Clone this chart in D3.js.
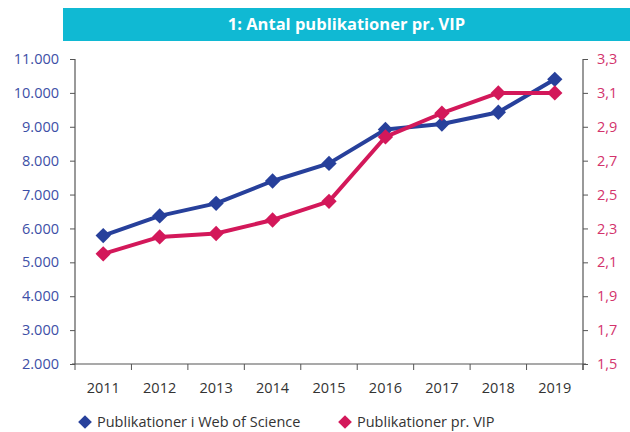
<!DOCTYPE html>
<html>
<head>
<meta charset="utf-8">
<script src="https://cdn.jsdelivr.net/npm/d3@7"></script>
<style>
  body { margin: 0; background: #fff; }
  svg text { font-family: "Open Sans", "Noto Sans", sans-serif; }
</style>
</head>
<body>
<div id="chart"></div>
<script>
'use strict';

// values
var years = ['2011', '2012', '2013', '2014', '2015', '2016', '2017', '2018', '2019'];
var wosPubs = [5790, 6370, 6740, 7400, 7920, 8920, 9080, 9430, 10400];
var pubsPerVip = [2.15, 2.25, 2.27, 2.35, 2.46, 2.84, 2.98, 3.10, 3.10];
var leftTicks = [2000, 3000, 4000, 5000, 6000, 7000, 8000, 9000, 10000, 11000];
var rightTicks = [1.5, 1.7, 1.9, 2.1, 2.3, 2.5, 2.7, 2.9, 3.1, 3.3];
var seriesNames = ['Publikationer i Web of Science', 'Publikationer pr. VIP'];
var chartTitle = '1: Antal publikationer pr. VIP';

var width = 630,
    height = 432,
    margin = {top: 59, right: 47, bottom: 68, left: 75},
    blue = '#27409b',
    red = '#d3185a',
    axisColor = '#555';

var svg = d3.select('#chart').append('svg')
            .attr('width', width)
            .attr('height', height);

// title bar
svg.append('rect')
   .attr('x', 63).attr('y', 8)
   .attr('width', width - 63).attr('height', 33)
   .attr('fill', '#10b9d3');

svg.append('text')
   .attr('x', 63 + (width - 63) / 2).attr('y', 30)
   .attr('text-anchor', 'middle')
   .attr('fill', '#fff')
   .attr('font-size', 16.5)
   .attr('font-weight', 'bold')
   .text(chartTitle);

var innerW = width - margin.left - margin.right,
    innerH = height - margin.top - margin.bottom;

var g = svg.append('g').attr('transform', 'translate(' + margin.left + ',' + margin.top + ')');

var x = d3.scalePoint().domain(years).range([0, innerW]).padding(0.5);
var band = d3.scaleBand().domain(years).range([0, innerW]);
var yLeft = d3.scaleLinear().domain([2000, 11000]).range([innerH, 0]);
var yRight = d3.scaleLinear().domain([1.5, 3.3]).range([innerH, 0]);

var fmtLeft = function (d) { return d3.format(',')(d).replace(/,/g, '.'); };
var fmtRight = function (d) { return d3.format('.1f')(d).replace('.', ','); };

// left axis
var gl = g.append('g')
          .call(d3.axisLeft(yLeft).tickValues(leftTicks).tickFormat(fmtLeft).tickSize(5).tickPadding(11));
gl.select('.domain').attr('stroke', axisColor).attr('stroke-width', 1.2).attr('d', 'M0,0V' + innerH);
gl.selectAll('.tick line').attr('stroke', axisColor);
gl.selectAll('.tick text').attr('fill', '#3d4fa6').attr('font-size', 14.5);

// right axis
var gr = g.append('g')
          .attr('transform', 'translate(' + innerW + ',0)')
          .call(d3.axisRight(yRight).tickValues(rightTicks).tickFormat(fmtRight).tickSize(5).tickPadding(9));
gr.select('.domain').attr('stroke', axisColor).attr('stroke-width', 1.2).attr('d', 'M0,0V' + (innerH + 6));
gr.selectAll('.tick line').attr('stroke', axisColor);
gr.selectAll('.tick text').attr('fill', '#d3336c').attr('font-size', 14.5);

// x axis: ticks between categories
var gx = g.append('g')
          .attr('transform', 'translate(0,' + innerH + ')');
gx.append('line')
  .attr('x1', -3).attr('x2', innerW + 3)
  .attr('stroke', axisColor).attr('stroke-width', 1.2);
gx.selectAll('.sep')
  .data(years.concat(['end']))
  .enter().append('line')
  .attr('class', 'sep')
  .attr('x1', function (d, i) { return i < years.length ? band(d) : innerW; })
  .attr('x2', function (d, i) { return i < years.length ? band(d) : innerW; })
  .attr('y1', 0).attr('y2', 6)
  .attr('stroke', axisColor);
gx.selectAll('.lbl')
  .data(years)
  .enter().append('text')
  .attr('class', 'lbl')
  .attr('x', function (d) { return x(d); })
  .attr('y', 29)
  .attr('text-anchor', 'middle')
  .attr('fill', '#333')
  .attr('font-size', 14.5)
  .text(function (d) { return d; });

// series
var diamond = d3.symbol().type(d3.symbolDiamond2).size(150);

var series = [
    {values: wosPubs, scale: yLeft, color: blue},
    {values: pubsPerVip, scale: yRight, color: red}
];

series.forEach(function (s) {
    var line = d3.line()
                 .x(function (d, i) { return x(years[i]); })
                 .y(function (d) { return s.scale(d); });

    g.append('path')
     .datum(s.values)
     .attr('fill', 'none')
     .attr('stroke', s.color)
     .attr('stroke-width', 4)
     .attr('stroke-linejoin', 'round')
     .attr('d', line);

    g.selectAll(null)
     .data(s.values)
     .enter().append('path')
     .attr('transform', function (d, i) { return 'translate(' + x(years[i]) + ',' + s.scale(d) + ')'; })
     .attr('d', diamond)
     .attr('fill', s.color);
});

// legend
var legendX = [85, 345];
var legend = svg.selectAll('.legend')
                .data(seriesNames)
                .enter().append('g')
                .attr('class', 'legend')
                .attr('transform', function (d, i) { return 'translate(' + legendX[i] + ',422)'; });
legend.append('path')
      .attr('d', d3.symbol().type(d3.symbolDiamond2).size(120))
      .attr('fill', function (d, i) { return series[i].color; });
legend.append('text')
      .attr('x', 12).attr('y', 5)
      .attr('fill', '#333')
      .attr('font-size', 14.5)
      .text(function (d) { return d; });
</script>
</body>
</html>
